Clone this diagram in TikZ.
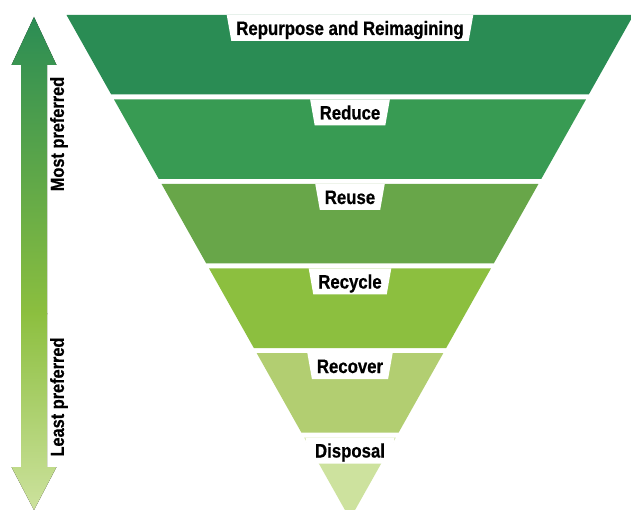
\documentclass[tikz,border=0pt]{standalone}
\usepackage{fontspec}
\newfontfamily\lblfont{Liberation Sans}[FakeStretch=0.86,FakeBold=0.6]
\usetikzlibrary{shapes.geometric}
\definecolor{c1}{RGB}{42,140,84}
\definecolor{c2}{RGB}{56,155,83}
\definecolor{c3}{RGB}{104,166,73}
\definecolor{c4}{RGB}{140,191,63}
\definecolor{c5}{RGB}{178,206,113}
\definecolor{c6}{RGB}{205,226,158}
\begin{document}
\begin{tikzpicture}[x=1pt,y=-1pt,
  lbl/.style={trapezium, trapezium angle=80, shape border rotate=180, fill=white,
    inner xsep=5pt, inner ysep=3pt, text height=17pt, text depth=3pt,
    minimum height=26pt, font=\lblfont\bfseries\fontsize{19.5}{21}\selectfont},
  side/.style={rotate=90, inner sep=0pt, font=\lblfont\bfseries\fontsize{19}{21}\selectfont}]
\useasboundingbox (0,0) rectangle (631,510);
\fill[white] (0,0) rectangle (631,510);
\clip (0,0) rectangle (631,510);
% bands
\foreach \i/\c in {0/c1,1/c2,2/c3,3/c4,4/c5} {
  \pgfmathsetmacro\yt{15+84.5*\i}
  \pgfmathsetmacro\yb{\yt+79.5}
  \pgfmathsetmacro\hl{0.5625*(519-\yt)}
  \pgfmathsetmacro\hb{0.5625*(519-\yb)}
  \fill[\c] (350-\hl,\yt) -- (350+\hl,\yt) -- (350+\hb,\yb) -- (350-\hb,\yb) -- cycle;
}
\fill[c6] (304.2,437.5) -- (395.8,437.5) -- (350,519) -- cycle;
% labels
\node[lbl] (t1) at (350,28) {Repurpose and Reimagining};
\node[lbl] (t2) at (350,112.5) {Reduce};
\node[lbl] (t3) at (350,197) {Reuse};
\node[lbl] (t4) at (350,281.5) {Recycle};
\node[lbl] (t5) at (350,366) {Recover};
\node[lbl] (t6) at (350,450.5) {Disposal};
% double arrow
\begin{scope}
\clip (34,17) -- (56.5,65) -- (47,65) -- (47,467) -- (56.5,467) -- (34,510)
  -- (11.5,467) -- (21,467) -- (21,65) -- (11.5,65) -- cycle;
\fill[top color=c1, bottom color=c4] (0,16) rectangle (70,314);
\fill[top color=c4, bottom color=c6] (0,313) rectangle (70,511);
\end{scope}
\node[side] (most) at (59,134) {Most preferred};
\node[side] (least) at (59,397) {Least preferred};
\end{tikzpicture}
\end{document}
